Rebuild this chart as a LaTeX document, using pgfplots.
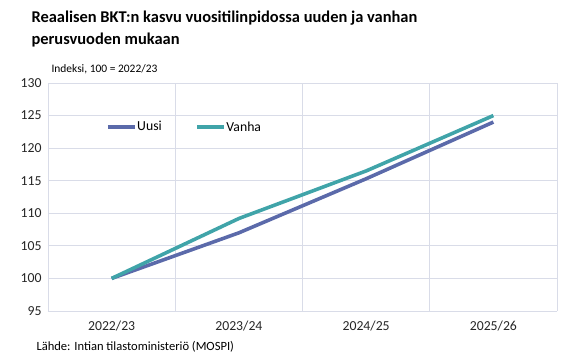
\documentclass[border=0pt]{standalone}
\usepackage{pgfplots}
\pgfplotsset{compat=1.18}
\usepackage{fontspec}
\setmainfont{Carlito}
\definecolor{uusi}{HTML}{5B6AAA}
\definecolor{vanha}{HTML}{40A4A9}
\definecolor{gridc}{HTML}{D9DCE8}
\begin{document}
\begin{tikzpicture}
\path[use as bounding box] (0bp,0bp) rectangle (564bp,360bp);
\begin{axis}[
  at={(48bp,49bp)}, anchor=south west,
  scale only axis, width=509bp, height=228bp,
  xmin=-0.5, xmax=3.5, ymin=95, ymax=130,
  xtick={0,1,2,3}, xticklabels={2022/23,2023/24,2024/25,2025/26},
  minor xtick={-0.5,0.5,1.5,2.5,3.5},
  ytick={95,100,...,130},
  xminorgrids=true, ymajorgrids=true,
  grid style={gridc, line width=0.8pt},
  minor grid style={gridc, line width=0.8pt},
  axis line style={draw=none},
  major tick length=0pt, minor tick length=0pt,
  tick label style={font=\fontsize{13.8}{16}\selectfont, text=black!85},
  /pgf/number format/assume math mode=true,
  yticklabel style={xshift=-3bp},
  xticklabel style={yshift=-6bp},
  legend style={at={(0.108,0.807)}, anchor=west, draw=none, fill=none,
    font=\fontsize{13.8}{16}\selectfont, legend columns=2,
    nodes={inner xsep=0.5bp},
    /tikz/every even column/.append style={column sep=33bp}},
  legend image code/.code={\draw[#1, line width=3.6pt] (0,0) -- (27bp,0);},
  clip=false,
]
\addplot[uusi, line width=3.6pt] coordinates {(0,100) (1,107.0) (2,115.3) (3,124.0)};
\addlegendentry{Uusi}
\addplot[vanha, line width=3.6pt] coordinates {(0,100) (1,109.2) (2,116.5) (3,125.0)};
\addlegendentry{Vanha}
\end{axis}
\node[anchor=west, font=\bfseries\fontsize{16.5}{20}\selectfont] at (28bp,342bp) {Reaalisen BKT:n kasvu vuositilinpidossa uuden ja vanhan};
\node[anchor=west, font=\bfseries\fontsize{16.5}{20}\selectfont] at (28bp,320bp) {perusvuoden mukaan};
\node[anchor=west, font=\fontsize{11.5}{13}\selectfont] at (48bp,291bp) {Indeksi, 100 = 2022/23};
\node[anchor=west, font=\fontsize{12.6}{15}\selectfont] at (33bp,13bp) {Lähde: Intian tilastoministeriö (MOSPI)};
\end{tikzpicture}
\end{document}
